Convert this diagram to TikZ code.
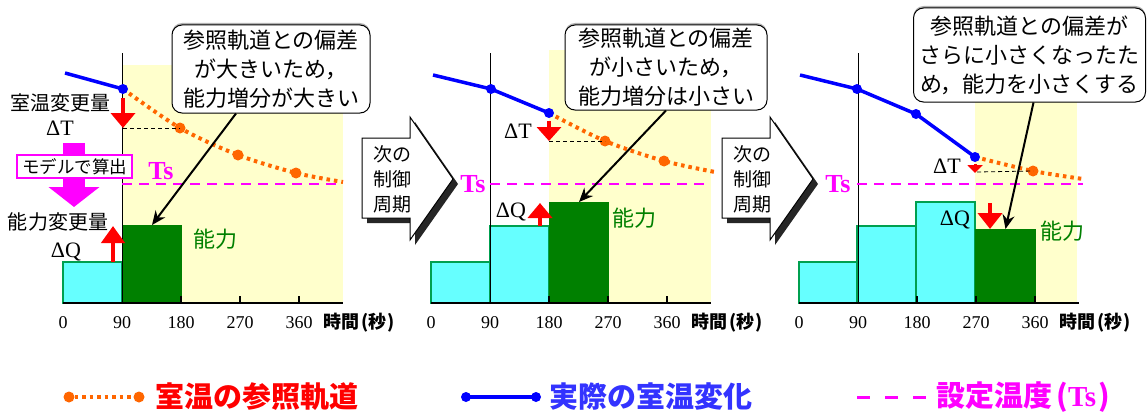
\documentclass[tikz,border=0pt]{standalone}
\usepackage{fontspec}
\setmainfont{Liberation Serif}
\newfontfamily\jp{Noto Sans CJK JP}
\usetikzlibrary{arrows.meta, shadows, backgrounds, calc}
\definecolor{refcol}{HTML}{FF6600}
\definecolor{realcol}{HTML}{0000FF}
\definecolor{realtxt}{HTML}{3333FF}
\definecolor{setcol}{HTML}{FF00FF}
\definecolor{prevcol}{HTML}{66FFFF}
\definecolor{prevline}{HTML}{00A050}
\definecolor{nowcol}{HTML}{008000}
\definecolor{futcol}{HTML}{FFFFCC}
\definecolor{deltacol}{HTML}{FF0000}

\begin{document}
\begin{tikzpicture}[x=1pt, y=-1pt,
  callout/.style={
    draw=black, fill=white, rounded corners=10pt, line width=1pt,
    align=center, inner sep=3pt, font=\jp\fontsize{22}{29}\selectfont,
    drop shadow={shadow xshift=0pt, shadow yshift=2pt, fill=gray!60, opacity=1}
  },
  lbl/.style={font=\jp\fontsize{20}{24}\selectfont},
  num/.style={font=\fontsize{18}{20}\selectfont},
  dlbl/.style={font=\fontsize{22}{24}\selectfont},
  tslbl/.style={text=setcol, font=\bfseries\fontsize{26}{28}\selectfont},
  capa/.style={text=nowcol, font=\jp\fontsize{22}{24}\selectfont},
  timelbl/.style={anchor=west, font=\jp\bfseries\fontsize{18}{20}\selectfont},
  legtxt/.style={anchor=west, font=\jp\bfseries\fontsize{29}{31}\selectfont},
  prevbar/.style={draw=prevline, fill=prevcol, line width=1.2pt,
    anchor=south west, inner sep=0pt, outer sep=0pt},
  nowbar/.style={fill=nowcol, anchor=south west, inner sep=0pt, outer sep=0pt},
  refpath/.style={refcol, line width=4pt, dash pattern=on 3.5pt off 4pt},
  realpath/.style={realcol, line width=3.5pt},
  setline/.style={setcol, line width=2.5pt, dash pattern=on 10pt off 7pt},
  refdot/.style={circle, fill=refcol, inner sep=0pt, minimum size=11pt},
  realdot/.style={circle, fill=realcol, inner sep=0pt, minimum size=10pt},
  guide/.style={black, line width=0.8pt, dash pattern=on 4pt off 3pt},
  redarr/.style={deltacol, line width=4.5pt, -{Triangle[width=24pt, length=15pt]}},
  pointer/.style={-{Stealth[length=14pt, width=12pt]}, line width=2pt},
  nextarrow/.style={draw=black, fill=white, line width=1pt,
    drop shadow={shadow xshift=5pt, shadow yshift=-5pt, fill=black!85, opacity=1}},
  nexttxt/.style={align=center, font=\jp\fontsize{19}{25}\selectfont}
]

\begin{pgfonlayer}{background}
  \fill[white] (0,0) rectangle (1147,412);
\end{pgfonlayer}
\useasboundingbox (0,0) rectangle (1147,412);

% ============ AXES (all three panels) ============
\foreach \p/\xo in {1/63, 2/431, 3/799}{
  \draw[line width=1.5pt] (\xo,303) -- (\xo+280,303);
  \draw[line width=0.9pt] (\xo+59,303) -- (\xo+59,53);
  \foreach \t in {2,3,4}
    \draw[line width=1.2pt] (\xo+59*\t,303) -- (\xo+59*\t,296);
  \foreach \t/\lab in {0/0, 1/90, 2/180, 3/270, 4/360}
    \node[num] (n\p-\t) at (\xo+59*\t,323) {\lab};
  \node[timelbl] (time\p) at (\xo+257,323) {時間\hspace{2pt}(秒\hspace{1pt})};
}

% ============ PANEL 1 ============
\begin{pgfonlayer}{background}
  \fill[futcol] (122,65) rectangle (343,303);
  \node[prevbar, minimum width=59pt, minimum height=41pt] (prev1a) at (63,303) {};
  \node[nowbar, minimum width=60pt, minimum height=78pt] (now1) at (122,303) {};
\end{pgfonlayer}

\draw[setline] (122,184) -- (343,184);
\node[tslbl] (ts1) at (161,171) {Ts};

\draw[refpath] plot[smooth, tension=0.5] coordinates {(123,89) (180,128) (238,155) (296,173) (343,182)};
\foreach \x/\y [count=\i] in {180/128, 238/155, 296/173}
  \node[refdot] (r1-\i) at (\x,\y) {};
\draw[realpath] (65,73) -- (123,89);
\node[realdot] (b1-1) at (123,89) {};

\draw[guide] (123,128) -- (r1-1.center);
\draw[redarr] ([yshift=-4pt]b1-1.south) -- (123,128);

\node[lbl] (dtlbl1) at (60,103) {室温変更量};
\node[dlbl] (dt1) at (60,128) {ΔT};

% model -> capacity change
\coordinate (mtop) at (74,143);
\coordinate (mbot) at (74,207);
\draw[setcol, line width=22pt, -{Triangle[width=50pt, length=20pt]}] (mtop) -- (mbot);
\node[draw=setcol, fill=white, line width=1.3pt, minimum width=115pt, minimum height=23pt,
  inner sep=0pt, font=\jp\fontsize{17.5}{19}\selectfont] (model) at (74.5,166.5) {モデルで算出};

\node[lbl] (dqlbl1) at (58,222) {能力変更量};
\node[dlbl] (dq1) at (66,252) {ΔQ};
\draw[redarr, -{Triangle[width=23pt, length=17pt]}] (prev1a.north east -| 113,0) -- (113,226);

\node[capa] (cap1) at (215,239) {能力};

\node[callout, minimum width=198pt, minimum height=88pt] (call1) at (271,69)
  {参照軌道との偏差\\が大きいため，\\能力増分が大きい};
\draw[pointer] ([xshift=-35pt]call1.south) -- (now1.north);

% ============ NEXT PERIOD ARROWS ============
\foreach \ax/\i in {362/2, 722/3}{
  \draw[nextarrow] (\ax,138) -- (\ax+48,138) -- (\ax+48,117) -- (\ax+91,179)
    -- (\ax+48,240) -- (\ax+48,218) -- (\ax,218) -- cycle;
  \node[nexttxt] (next\i) at (\ax+30,179) {次の\\制御\\周期};
}

% ============ PANEL 2 ============
\begin{pgfonlayer}{background}
  \fill[futcol] (549,50) rectangle (711,303);
  \node[prevbar, minimum width=59pt, minimum height=41pt] (prev2a) at (431,303) {};
  \node[prevbar, minimum width=59pt, minimum height=77pt] (prev2b) at (490,303) {};
  \node[nowbar, minimum width=60pt, minimum height=101pt] (now2) at (549,303) {};
\end{pgfonlayer}

\draw[setline] (490,184) -- (709,184);
\node[tslbl] (ts2) at (473,184) {Ts};

\draw[refpath] plot[smooth, tension=0.5] coordinates {(549,113) (605,141) (664,161) (715,172)};
\foreach \x/\y [count=\i] in {605/141, 664/161}
  \node[refdot] (r2-\i) at (\x,\y) {};
\draw[realpath] (433,75) -- (491,89) -- (549,113);
\node[realdot] (b2-1) at (491,89) {};
\node[realdot] (b2-2) at (549,113) {};

\draw[guide] (549,141) -- (r2-1.center);
\draw[redarr, -{Triangle[width=24pt, length=14pt]}] ([yshift=-3pt]b2-2.south) -- (549,141);
\node[dlbl] (dt2) at (518,131) {ΔT};

\node[dlbl] (dq2) at (511,212) {ΔQ};
\draw[redarr] (prev2b.north east -| 540,0) -- (540,203);

\node[capa] (cap2) at (634,218) {能力};

\node[callout, minimum width=202pt, minimum height=85pt] (call2) at (666,67.5)
  {参照軌道との偏差\\が小さいため，\\能力増分は小さい};
\draw[pointer] (call2.south) -- (now2.north);

% ============ PANEL 3 ============
\begin{pgfonlayer}{background}
  \fill[futcol] (975,50) rectangle (1077,303);
  \node[prevbar, minimum width=58pt, minimum height=41pt] (prev3a) at (799,303) {};
  \node[prevbar, minimum width=59pt, minimum height=77pt] (prev3b) at (857,303) {};
  \node[prevbar, minimum width=59pt, minimum height=101pt] (prev3c) at (916,303) {};
  \node[nowbar, minimum width=61pt, minimum height=74pt] (now3) at (975,303) {};
\end{pgfonlayer}

\draw[setline] (857,184) -- (1083,184);
\node[tslbl] (ts3) at (838,184) {Ts};

\draw[refpath] plot[smooth, tension=0.5] coordinates {(975,157) (1033,171) (1083,179)};
\node[refdot] (r3-1) at (1033,171) {};
\draw[realpath] (800,75) -- (857,89) -- (916,114) -- (975,157);
\node[realdot] (b3-1) at (857,89) {};
\node[realdot] (b3-2) at (916,114) {};
\node[realdot] (b3-3) at (975,157) {};

\draw[guide] (977,172) -- (r3-1.center);
\draw[deltacol, line width=3pt, -{Triangle[width=15pt, length=8pt]}] ([yshift=-2pt]b3-3.south) -- (975,173);
\node[dlbl] (dt3) at (947,166) {ΔT};

\node[dlbl] (dq3) at (955,220) {ΔQ};
\draw[redarr, -{Triangle[width=24pt, length=16pt]}] (990,203) -- (now3.north west -| 990,0);

\node[capa] (cap3) at (1062,231) {能力};

\node[callout, minimum width=232pt, minimum height=94pt] (call3) at (1029.5,55)
  {参照軌道との偏差が\\さらに小さくなったた\\め，能力を小さくする};
\draw[pointer] ([xshift=4pt]call3.south) -- (now3.north);

% ============ LEGEND ============
\node[refdot] (lr1) at (69,397) {};
\node[refdot] (lr2) at (139,397) {};
\draw[refpath] (lr1) -- (lr2);
\node[legtxt, text=deltacol] (leg1) at (152,397) {室温の参照軌道};

\node[realdot] (lb1) at (466,397) {};
\node[realdot] (lb2) at (536,397) {};
\draw[realpath] (lb1.center) -- (lb2.center);
\node[legtxt, text=realtxt] (leg2) at (546,397) {実際の室温変化};

\coordinate (ls1) at (857,397);
\coordinate (ls2) at (927,397);
\draw[setline, line width=3pt, dash pattern=on 13pt off 15pt] (ls1) -- (ls2);
\node[legtxt, text=setcol] (leg3) at (933,397)
  {設定温度\hspace{4pt}({\rmfamily Ts}\hspace{2pt})};

\end{tikzpicture}
\end{document}
